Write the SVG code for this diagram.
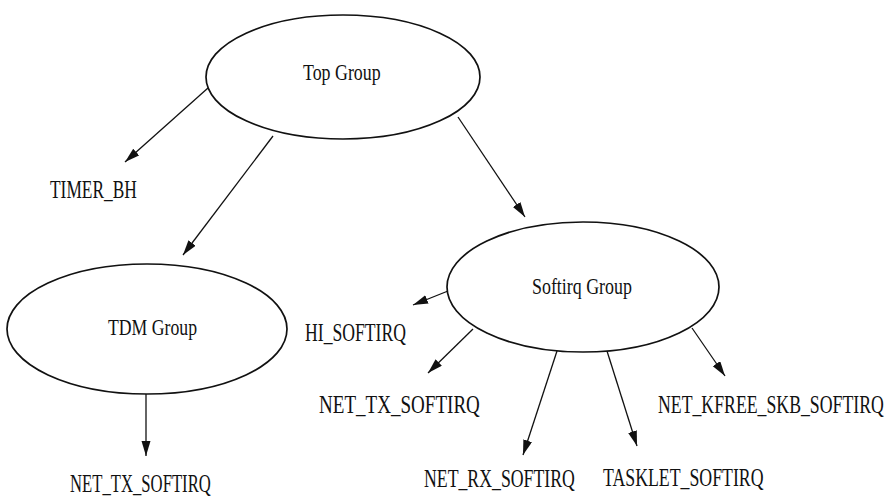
<svg xmlns="http://www.w3.org/2000/svg" width="894" height="499" viewBox="0 0 894 499">
<defs>
<style>
.node ellipse{fill:#fff;stroke:#111;stroke-width:1.7}
.lbl{font-family:"Liberation Serif","Times New Roman",serif;font-size:26px;fill:#111}
.grp{font-family:"Liberation Serif","Times New Roman",serif;font-size:24px;fill:#111}
.edge{stroke:#111;stroke-width:1.3;fill:none;marker-end:url(#ah)}
</style>
<marker id="ah" markerUnits="userSpaceOnUse" markerWidth="16" markerHeight="10" refX="15" refY="4.5" orient="auto">
<path d="M0,0 L15,4.5 L0,9 z" fill="#111"/>
</marker>
</defs>
<rect width="894" height="499" fill="#fff"/>
<g id="connectors">
<line class="edge" x1="208" y1="88" x2="125" y2="162"/>
<line class="edge" x1="273" y1="136" x2="183" y2="255"/>
<line class="edge" x1="458" y1="117" x2="525" y2="217"/>
<line class="edge" x1="448" y1="291" x2="413" y2="305"/>
<line class="edge" x1="473" y1="329" x2="428" y2="373"/>
<line class="edge" x1="557" y1="351" x2="523" y2="455"/>
<line class="edge" x1="607" y1="351" x2="637" y2="446"/>
<line class="edge" x1="692" y1="328" x2="725" y2="376"/>
<line class="edge" x1="146" y1="394" x2="146" y2="456"/>
</g>
<g id="top-group" class="node">
<ellipse cx="343" cy="77" rx="137" ry="62"/>
<text class="grp" transform="translate(303,80) scale(0.745,1)">Top Group</text>
</g>
<g id="tdm-group" class="node">
<ellipse cx="147" cy="329" rx="140" ry="65"/>
<text class="grp" transform="translate(108,335) scale(0.738,1)">TDM Group</text>
</g>
<g id="softirq-group" class="node">
<ellipse cx="583" cy="287" rx="136" ry="65"/>
<text class="grp" transform="translate(532,294) scale(0.746,1)">Softirq Group</text>
</g>
<g id="timer-bh">
<text class="lbl" transform="translate(50,198) scale(0.669,1)">TIMER_BH</text>
</g>
<g id="hi-softirq">
<text class="lbl" transform="translate(305,341) scale(0.679,1)">HI_SOFTIRQ</text>
</g>
<g id="net-tx-softirq-2">
<text class="lbl" transform="translate(319,413) scale(0.733,1)">NET_TX_SOFTIRQ</text>
</g>
<g id="net-rx-softirq">
<text class="lbl" transform="translate(424,487) scale(0.683,1)">NET_RX_SOFTIRQ</text>
</g>
<g id="tasklet-softirq">
<text class="lbl" transform="translate(603,486) scale(0.684,1)">TASKLET_SOFTIRQ</text>
</g>
<g id="net-kfree-skb-softirq">
<text class="lbl" transform="translate(658,413) scale(0.683,1)">NET_KFREE_SKB_SOFTIRQ</text>
</g>
<g id="net-tx-softirq-1">
<text class="lbl" transform="translate(70,492) scale(0.642,1)">NET_TX_SOFTIRQ</text>
</g>
</svg>
